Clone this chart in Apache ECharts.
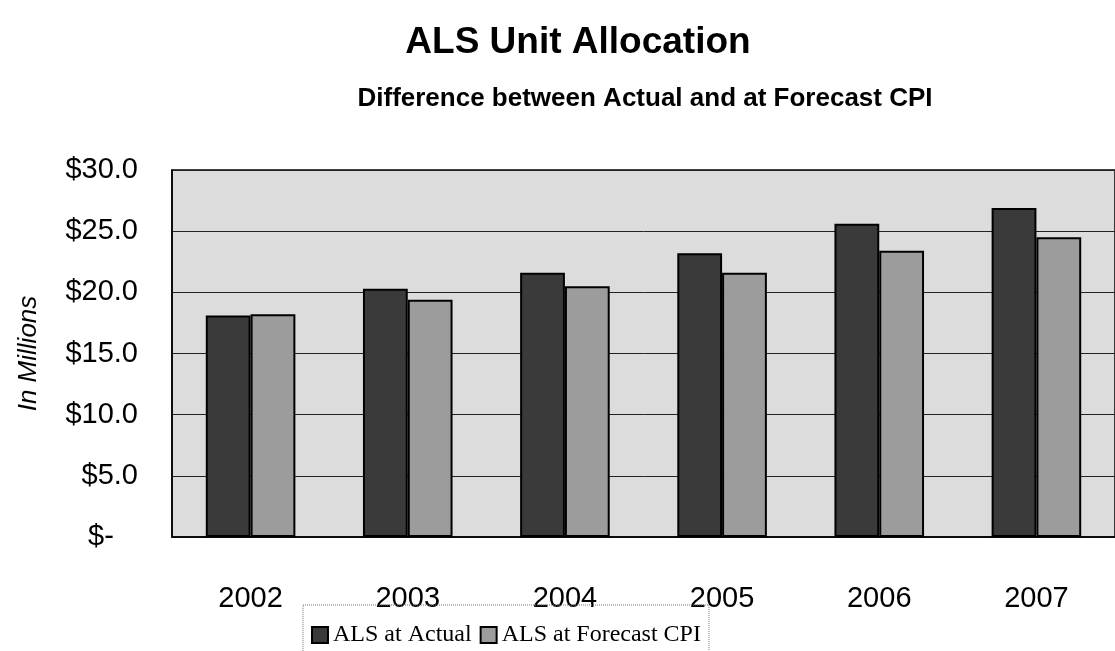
<!DOCTYPE html>
<html>
<head>
<meta charset="utf-8">
<script src="https://cdn.jsdelivr.net/npm/echarts@6/dist/echarts.min.js"></script>
<style>html,body{margin:0;padding:0;background:#fff;}#c{width:1115px;height:651px;}</style>
</head>
<body>
<div id="c"></div>
<script>
var categories = ['2002', '2003', '2004', '2005', '2006', '2007'];
var alsActual = [18.1, 20.3, 21.6, 23.2, 25.6, 26.9];
var alsForecast = [18.2, 19.4, 20.5, 21.6, 23.4, 24.5];
var seriesNames = ['ALS at Actual', 'ALS at Forecast CPI'];
var yTicks = [0, 5, 10, 15, 20, 25, 30];

var chart = echarts.init(document.getElementById('c'), null, {renderer: 'canvas'});
chart.setOption({
  backgroundColor: '#ffffff',
  animation: false,
  graphic: [
    {type: 'text', x: 578, y: 24, style: {text: 'ALS Unit Allocation', font: 'bold 37px "Liberation Sans", Arial, sans-serif', fill: '#000', textAlign: 'center', textVerticalAlign: 'top'}},
    {type: 'text', x: 645, y: 86, style: {text: 'Difference between Actual and at Forecast CPI', font: 'bold 26px "Liberation Sans", Arial, sans-serif', fill: '#000', textAlign: 'center', textVerticalAlign: 'top'}}
  ],
  legend: {
    data: seriesNames,
    left: 303,
    top: 605,
    orient: 'horizontal',
    itemWidth: 16,
    itemHeight: 16,
    itemGap: 8,
    padding: [18, 8, 14, 8],
    borderColor: '#777',
    borderWidth: 1,
    borderType: 'dotted',
    icon: 'rect',
    textStyle: {fontFamily: '"Liberation Serif", "Times New Roman", serif', fontSize: 24, color: '#000', padding: [0, 0, 0, 0]}
  },
  grid: {left: 172, top: 170, width: 960, height: 367, containLabel: false,
    show: true, backgroundColor: '#dcdcdc', borderColor: '#000', borderWidth: 1.5},
  xAxis: {
    type: 'category',
    data: categories,
    axisLine: {lineStyle: {color: '#000', width: 1.5}},
    axisTick: {show: false},
    axisLabel: {fontFamily: '"Liberation Sans", Arial, sans-serif', fontSize: 29, color: '#000', margin: 47}
  },
  yAxis: {
    type: 'value',
    min: 0,
    max: 30,
    interval: 5,
    name: 'In Millions',
    nameLocation: 'middle',
    nameGap: 130,
    nameRotate: 90,
    nameTextStyle: {fontFamily: '"Liberation Sans", Arial, sans-serif', fontSize: 26, fontStyle: 'italic', color: '#000'},
    axisLine: {show: true, lineStyle: {color: '#000', width: 1.5}},
    axisTick: {show: false},
    splitLine: {lineStyle: {color: '#222', width: 1}},
    axisLabel: {
      fontFamily: '"Liberation Sans", Arial, sans-serif', fontSize: 29, color: '#000', margin: 34,
      formatter: function (v) { return v === 0 ? '$-   ' : '$' + v.toFixed(1); }
    }
  },
  series: [
    {name: seriesNames[0], type: 'bar', data: alsActual, barGap: '0%', barCategoryGap: '43%',
      itemStyle: {color: '#3a3a3a', borderColor: '#000', borderWidth: 2}},
    {name: seriesNames[1], type: 'bar', data: alsForecast,
      itemStyle: {color: '#9c9c9c', borderColor: '#000', borderWidth: 2}}
  ]
});
</script>
</body>
</html>
